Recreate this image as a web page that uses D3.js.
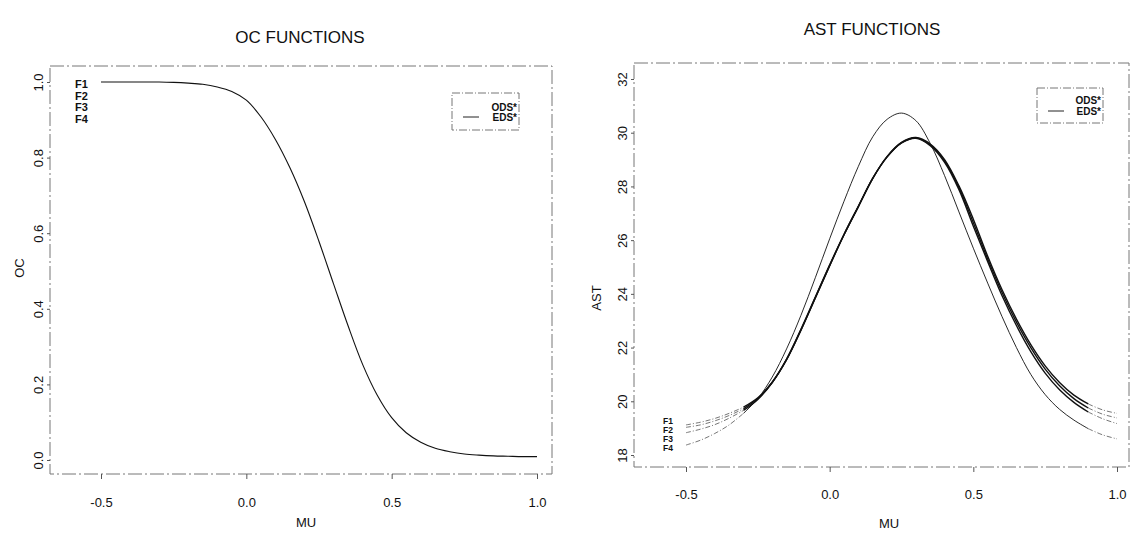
<!DOCTYPE html>
<html>
<head>
<meta charset="UTF-8">
<title>OC FUNCTIONS / AST FUNCTIONS</title>
<script src="https://cdn.jsdelivr.net/npm/d3@7"></script>
<style>
body { margin: 0; background: #fff; }
svg text { font-family: "Liberation Sans", Arial, sans-serif; fill: #111; }
</style>
</head>
<body>
<script>
// values
var mu = [-0.5, -0.45, -0.4, -0.35, -0.3, -0.25, -0.2, -0.15, -0.1, -0.05,
          0.0, 0.05, 0.1, 0.15, 0.2, 0.25, 0.3, 0.35, 0.4, 0.45,
          0.5, 0.55, 0.6, 0.65, 0.7, 0.75, 0.8, 0.85, 0.9, 0.95, 1.0];

var oc = [1.000, 1.000, 1.000, 1.000, 1.000, 0.999, 0.997, 0.994, 0.987, 0.975,
          0.952, 0.908, 0.848, 0.773, 0.683, 0.578, 0.466, 0.355, 0.253, 0.172,
          0.112, 0.072, 0.047, 0.031, 0.022, 0.016, 0.013, 0.011, 0.010, 0.009, 0.009];

var astF1 = [19.12, 19.22, 19.36, 19.55, 19.78, 20.13, 20.71, 21.55, 22.65, 23.85,
             25.05, 26.20, 27.25, 28.30, 29.12, 29.64, 29.82, 29.58, 29.00, 28.02,
             26.78, 25.40, 24.15, 23.06, 22.11, 21.32, 20.70, 20.23, 19.90, 19.68, 19.55];
var astF2 = [19.03, 19.12, 19.27, 19.47, 19.72, 20.10, 20.70, 21.55, 22.65, 23.85,
             25.05, 26.20, 27.25, 28.30, 29.10, 29.62, 29.80, 29.55, 28.95, 27.95,
             26.65, 25.30, 24.05, 22.95, 22.00, 21.20, 20.58, 20.10, 19.75, 19.52, 19.38];
var astF3 = [18.83, 18.96, 19.13, 19.37, 19.66, 20.07, 20.70, 21.57, 22.68, 23.88,
             25.08, 26.22, 27.27, 28.31, 29.10, 29.62, 29.79, 29.52, 28.90, 27.88,
             26.52, 25.20, 23.93, 22.82, 21.85, 21.05, 20.43, 19.96, 19.60, 19.35, 19.17];
var astF4 = [18.37, 18.55, 18.80, 19.12, 19.55, 20.10, 20.90, 21.95, 23.20, 24.60,
             26.05, 27.45, 28.75, 29.85, 30.50, 30.73, 30.45, 29.60, 28.40, 27.05,
             25.70, 24.40, 23.15, 22.00, 21.00, 20.25, 19.70, 19.30, 18.98, 18.75, 18.60];

var curveNames = ["F1", "F2", "F3", "F4"];
var legendNames = ["ODS*", "EDS*"];
var muTicks = [-0.5, 0.0, 0.5, 1.0];
var ocTicks = [0.0, 0.2, 0.4, 0.6, 0.8, 1.0];
var astTicks = [18, 20, 22, 24, 26, 28, 30, 32];

var Width = 1131, Height = 538;
var svg = d3.select("body")
            .append("svg")
            .attr("width", Width)
            .attr("height", Height);

var fmt1 = function(d){ return d.toFixed(1); };
var fmt0 = function(d){ return d.toFixed(0); };

function frame(box){
    svg.append("rect")
        .attr("x", box.l).attr("y", box.t)
        .attr("width", box.r - box.l).attr("height", box.b - box.t)
        .attr("fill", "none")
        .attr("stroke", "#777")
        .attr("stroke-width", 1)
        .attr("stroke-dasharray", "14,3,2,3");
}

function axes(box, x, y, yTicks, yFmt, xPad){
    var gx = svg.append("g")
        .attr("transform", "translate(0," + box.b + ")")
        .call(d3.axisBottom(x).tickValues(muTicks).tickFormat(fmt1).tickSize(5).tickPadding(xPad));
    var gy = svg.append("g")
        .attr("transform", "translate(" + box.l + ",0)")
        .call(d3.axisLeft(y).tickValues(yTicks).tickFormat(yFmt).tickSize(3));
    [gx, gy].forEach(function(g){
        g.select(".domain").remove();
        g.selectAll("line").attr("stroke", "#555");
        g.selectAll("text")
            .attr("font-size", 13)
            .attr("font-family", "Liberation Sans, Arial, sans-serif")
            .attr("fill", "#111");
    });
    gy.selectAll("text")
        .attr("transform", "rotate(-90)")
        .attr("x", 0)
        .attr("y", -7)
        .attr("dy", 0)
        .attr("text-anchor", "middle");
}

function labels(title, tx, ty, xl, xlx, xly, yl, ylx, yly){
    svg.append("text").attr("x", tx).attr("y", ty)
        .attr("text-anchor", "middle").attr("font-size", 17).text(title);
    svg.append("text").attr("x", xlx).attr("y", xly)
        .attr("text-anchor", "middle").attr("font-size", 13).text(xl);
    svg.append("text")
        .attr("transform", "translate(" + ylx + "," + yly + ") rotate(-90)")
        .attr("text-anchor", "middle").attr("font-size", 13).text(yl);
}

function legend(x0, y0, w, h, c1, c2){
    svg.append("rect")
        .attr("x", x0).attr("y", y0).attr("width", w).attr("height", h)
        .attr("fill", "none").attr("stroke", "#777")
        .attr("stroke-dasharray", "8,2,1,2");
    [c1, c2].forEach(function(c, i){
        svg.append("text")
            .attr("x", x0 + w - 2)
            .attr("y", y0 + c + 3.5)
            .attr("text-anchor", "end")
            .attr("font-size", 10)
            .attr("font-weight", "bold")
            .text(legendNames[i]);
    });
    svg.append("line")
        .attr("x1", x0 + 11).attr("x2", x0 + 27)
        .attr("y1", y0 + c2).attr("y2", y0 + c2)
        .attr("stroke", "#222").attr("stroke-width", 1);
}

function curveLabels(x0, ys, size){
    curveNames.forEach(function(name, i){
        svg.append("text")
            .attr("x", x0).attr("y", ys[i])
            .attr("font-size", size)
            .attr("font-weight", "bold")
            .text(name);
    });
}

// ---------- OC panel ----------
var ocBox = {l: 50, r: 552, t: 66, b: 474};
var xOC = d3.scaleLinear().domain([-0.5, 1.0]).range([101, 537]);
var yOC = d3.scaleLinear().domain([0, 1]).range([460, 82]);

frame(ocBox);
axes(ocBox, xOC, yOC, ocTicks, fmt1, 19);
labels("OC FUNCTIONS", 300, 43, "MU", 306, 527, "OC", 24, 268);

var ocLine = d3.line()
    .x(function(d, i){ return xOC(mu[i]); })
    .y(function(d){ return yOC(d); })
    .curve(d3.curveCatmullRom.alpha(0.5));
svg.append("path")
    .datum(oc)
    .attr("d", ocLine)
    .attr("fill", "none")
    .attr("stroke", "#111")
    .attr("stroke-width", 1.1);

curveLabels(75, [88, 100, 111, 123], 11);
legend(452, 93, 67, 37, 14, 24);

// ---------- AST panel ----------
var astBox = {l: 634, r: 1129, t: 63, b: 467};
var xAST = d3.scaleLinear().domain([-0.5, 1.0]).range([686, 1117]);
var yAST = d3.scaleLinear().domain([18, 32]).range([455, 79]);

frame(astBox);
axes(astBox, xAST, yAST, astTicks, fmt0, 18);
labels("AST FUNCTIONS", 872, 35, "MU", 889, 528, "AST", 601, 298);

var astSeries = [astF1, astF2, astF3, astF4];
var astWidth = [1.4, 1.4, 1.4, 0.9];

var astLine = d3.line()
    .x(function(d){ return xAST(d[0]); })
    .y(function(d){ return yAST(d[1]); })
    .curve(d3.curveCatmullRom.alpha(0.5));

astSeries.forEach(function(vals, k){
    var pts = vals.map(function(v, i){ return [mu[i], v]; });
    var leftTail = pts.filter(function(p){ return p[0] <= -0.3; });
    var core = pts.filter(function(p){ return p[0] >= -0.3 && p[0] <= 0.9; });
    var rightTail = pts.filter(function(p){ return p[0] >= 0.9; });
    svg.append("path").datum(core).attr("d", astLine)
        .attr("fill", "none").attr("stroke", "#111")
        .attr("stroke-width", astWidth[k]);
    [leftTail, rightTail].forEach(function(t){
        svg.append("path").datum(t).attr("d", astLine)
            .attr("fill", "none").attr("stroke", "#666")
            .attr("stroke-width", 0.9)
            .attr("stroke-dasharray", "5,2,1,2");
    });
});

curveLabels(663, [424, 433, 442, 451], 8.5);
legend(1037, 88, 66, 35, 12, 23);
</script>
</body>
</html>
